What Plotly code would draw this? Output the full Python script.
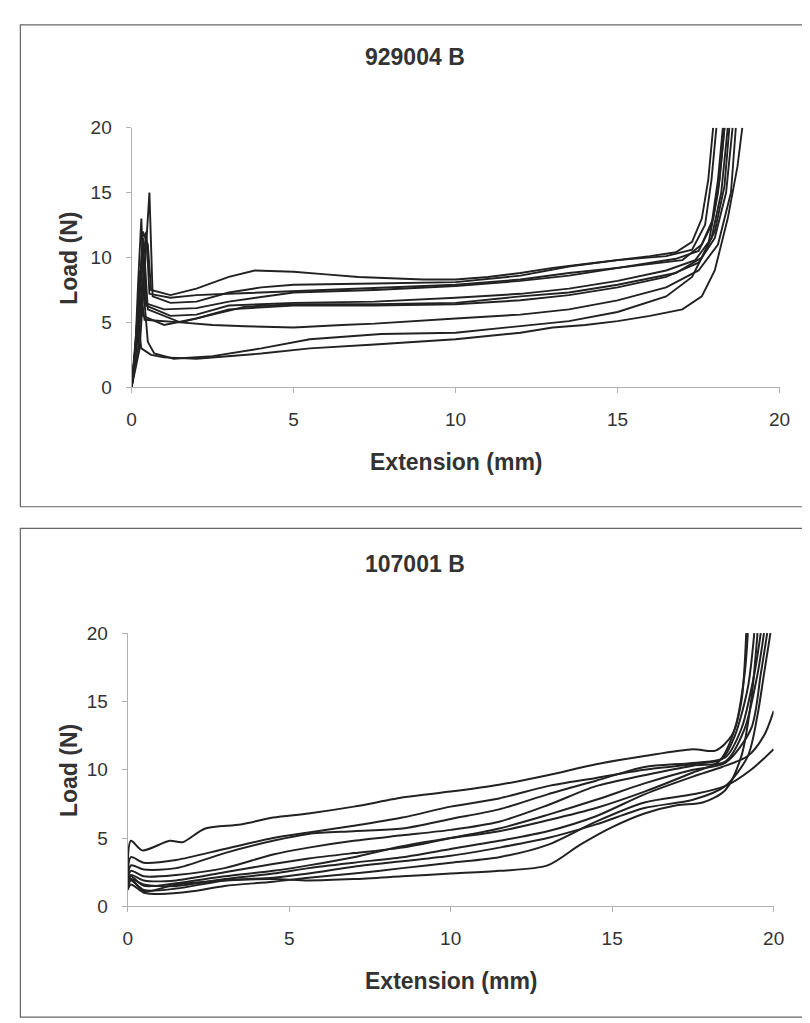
import plotly.graph_objects as go

# ---------------- data: top panel "929004 B" (Extension mm, Load N) ----------------
top_x = [
    [0, 0.2, 0.35, 0.5, 0.6, 1.2, 2, 3, 3.8, 5, 6, 7, 8, 9, 10, 11, 12, 13, 14, 15, 16, 16.8, 17.3, 17.6, 17.8, 17.95],
    [0, 0.25, 0.4, 0.5, 0.55, 0.65, 1.2, 2, 3, 4, 5, 7.5, 10, 12, 13.5, 15, 16.5, 17.3, 17.7, 17.9, 18.05],
    [0, 0.1, 0.2, 0.3, 0.4, 1.0, 2, 3, 5, 7.5, 10, 12, 13.5, 15, 16.8, 17.5, 17.9, 18.1, 18.25],
    [0, 0.15, 0.35, 0.45, 1.2, 2, 3, 5, 7.5, 10, 12, 13.5, 15, 16.5, 17.4, 17.9, 18.2, 18.4],
    [0, 0.2, 0.4, 0.5, 1.5, 2.5, 3.5, 5, 7.5, 10, 12, 13.5, 15, 16.8, 17.6, 18.0, 18.3, 18.45],
    [0, 0.1, 0.25, 0.35, 1.0, 2, 3, 5, 7.5, 10, 12, 13.5, 15, 16.5, 17.5, 18.0, 18.35, 18.55],
    [0, 0.15, 0.3, 0.4, 1.5, 2.5, 3.5, 5, 6.5, 7.5, 10, 12, 13.5, 15, 16.5, 17.5, 18.1, 18.5, 18.65],
    [0, 0.15, 0.35, 0.5, 0.7, 1.3, 2.5, 4, 5.5, 7.7, 10, 12, 13.5, 15, 16.5, 17.3, 17.8, 18.1, 18.3],
    [0, 0.2, 0.3, 0.6, 1.0, 2, 4, 5.5, 7.5, 10, 12, 13, 14, 15, 16, 17, 17.6, 18.0, 18.4, 18.7, 18.85],
    [0, 0.2, 0.45, 0.55, 1.2, 2, 3, 5, 7.5, 10, 12, 13.5, 15, 17, 17.6, 17.95, 18.15, 18.3],
]
top_y = [
    [0, 5, 12, 11, 7.5, 7.1, 7.6, 8.5, 9.0, 8.9, 8.7, 8.5, 8.4, 8.3, 8.3, 8.5, 8.8, 9.2, 9.5, 9.8, 10.1, 10.4, 11.2, 13, 16, 20],
    [0, 3, 9, 13, 15, 7.0, 6.5, 6.6, 7.3, 7.7, 7.9, 8.0, 8.1, 8.6, 9.3, 9.8, 10.1, 10.6, 12.5, 16, 20],
    [0, 2, 8, 13, 6.5, 6.0, 6.1, 6.6, 7.3, 7.5, 7.8, 8.2, 8.6, 9.2, 9.9, 10.5, 12.5, 16, 20],
    [0, 4, 11.5, 6.3, 5.5, 5.6, 6.3, 6.5, 6.6, 6.9, 7.2, 7.6, 8.2, 9.0, 9.8, 11.5, 15, 20],
    [0, 3, 10, 6.0, 5.0, 5.6, 6.2, 6.4, 6.4, 6.5, 7.0, 7.3, 7.9, 8.8, 10, 12, 15.5, 20],
    [0, 2, 9, 5.5, 4.8, 5.3, 6.0, 6.3, 6.3, 6.4, 6.7, 7.1, 7.7, 8.5, 9.6, 11.5, 15, 20],
    [0, 3, 7, 5.2, 5.0, 4.8, 4.7, 4.6, 4.8, 4.9, 5.3, 5.6, 6.0, 6.7, 7.7, 9.0, 11, 15, 20],
    [0, 4, 8, 3.5, 2.6, 2.2, 2.4, 3.0, 3.7, 4.1, 4.2, 4.7, 5.1, 5.8, 7.0, 8.5, 11, 15, 20],
    [0, 5, 3.0, 2.5, 2.3, 2.2, 2.6, 3.0, 3.3, 3.7, 4.2, 4.6, 4.8, 5.1, 5.5, 6.0, 7.0, 9, 13, 17, 20],
    [0, 6, 12, 7.2, 6.9, 7.1, 7.2, 7.4, 7.7, 7.9, 8.3, 8.8, 9.2, 9.8, 11, 13, 16, 20],
]

# ---------------- data: bottom panel "107001 B" ----------------
bot_x = [
    [0, 0.1, 0.45, 1.3, 1.7, 2.4, 3.5, 4.5, 5.6, 7, 8.6, 10, 11.5, 13, 14.5, 16, 17.5, 18.2, 18.7, 19.0, 19.15],
    [0, 0.1, 0.5, 1.5, 3, 4.5, 5.6, 7, 8.5, 10, 11.5, 13, 14.5, 16, 17.5, 18.4, 18.8, 19.2, 19.4],
    [0, 0.1, 0.5, 1.5, 3, 4.5, 5.6, 7, 8.5, 10, 11.5, 13, 14.5, 16, 17.5, 18.5, 19.0, 19.4, 19.6],
    [0, 0.1, 0.5, 1.5, 3, 4.5, 5.6, 7, 8.5, 10, 11.5, 13, 14.5, 16, 17.5, 18.5, 19.1, 19.5, 19.7],
    [0, 0.1, 0.5, 1.5, 3, 4.5, 5.6, 7, 8.5, 10, 11.5, 13, 14.5, 16, 17.5, 18.5, 19.3, 19.6, 19.8],
    [0, 0.1, 0.5, 1.5, 3, 4.5, 5.6, 7, 8.5, 10, 11.5, 13, 14.5, 16, 17.5, 18.4, 19.2, 19.7, 20.0],
    [0, 0.1, 0.5, 1.5, 3, 4.5, 5.6, 7, 8.5, 10, 11.5, 13, 14.5, 16, 17.5, 18.5, 19.2, 19.5, 19.7, 19.9],
    [0, 0.1, 0.5, 1.0, 2, 3, 4.5, 5.6, 7, 8.5, 10, 11.5, 13, 14.5, 16, 17.5, 18.5, 19.3, 20.0],
    [0, 0.1, 0.5, 1.5, 3, 4.5, 5.6, 7, 8.5, 10, 11.5, 13, 14, 15, 16, 17, 17.8, 18.5, 19.0, 19.3, 19.5],
    [0, 0.1, 0.5, 1.5, 3, 4.5, 5.6, 7, 8.5, 10, 11.5, 13, 14.5, 16, 17.5, 18.3, 18.8, 19.1, 19.2],
]
bot_y = [
    [2.5, 4.8, 4.1, 4.8, 4.7, 5.7, 6.0, 6.5, 6.8, 7.3, 8.0, 8.4, 8.9, 9.6, 10.4, 11.0, 11.5, 11.4, 12.5, 15, 20],
    [2.2, 3.6, 3.2, 3.4, 4.2, 5.0, 5.4, 5.9, 6.5, 7.3, 7.9, 8.8, 9.4, 10.0, 10.4, 10.8, 12.5, 16, 20],
    [2.0, 3.0, 2.7, 2.8, 3.9, 4.8, 5.3, 5.5, 5.7, 6.4, 7.1, 8.2, 9.2, 10.2, 10.5, 10.9, 13, 17, 20],
    [2.0, 2.6, 2.2, 2.3, 2.8, 3.8, 4.3, 4.8, 5.2, 5.6, 6.2, 7.4, 8.8, 9.6, 10.3, 10.6, 13, 17, 20],
    [1.8, 2.3, 1.9, 1.9, 2.5, 3.1, 3.5, 3.9, 4.3, 5.0, 5.7, 6.7, 7.8, 9.0, 10.0, 10.5, 13, 17, 20],
    [1.6, 2.0, 1.6, 1.5, 2.0, 2.4, 2.8, 3.2, 3.6, 4.2, 4.8, 5.5, 6.6, 8.2, 9.5, 10.2, 11.0, 12.5, 14.3],
    [1.4, 1.9, 1.2, 1.3, 1.9, 2.1, 2.4, 2.9, 3.3, 3.7, 4.3, 5.0, 6.0, 7.2, 7.8, 8.8, 11, 14, 17, 20],
    [1.2, 1.6, 1.0, 0.9, 1.1, 1.5, 1.8, 2.1, 2.4, 2.8, 3.2, 3.6, 4.5, 6.2, 7.6, 8.2, 8.8, 10, 11.5],
    [1.5, 2.0, 1.1, 1.6, 1.9, 2.0, 1.9, 2.0, 2.2, 2.4, 2.6, 3.0, 4.5, 5.8, 6.8, 7.4, 7.6, 8.5, 11, 15, 20],
    [1.7, 2.2, 1.5, 1.7, 2.2, 2.6, 3.0, 3.6, 4.4, 5.0, 5.5, 6.3, 7.2, 8.4, 9.8, 10.6, 13, 17, 20],
]

titles = ["929004 B", "107001 B"]
x_ticks = [0, 5, 10, 15, 20]
y_ticks = [0, 5, 10, 15, 20]

W, H = 810, 1023
LINE = "#222222"
FONT = "Liberation Sans, Arial, sans-serif"

fig = go.Figure()
for xs, ys in zip(top_x, top_y):
    fig.add_trace(go.Scatter(x=xs, y=ys, mode="lines", xaxis="x", yaxis="y",
                             line=dict(color=LINE, width=1.9), showlegend=False, hoverinfo="skip"))
for xs, ys in zip(bot_x, bot_y):
    fig.add_trace(go.Scatter(x=xs, y=ys, mode="lines", xaxis="x2", yaxis="y2",
                             line=dict(color=LINE, width=2.0, shape="spline", smoothing=0.8),
                             showlegend=False, hoverinfo="skip"))

def px_x(p):
    return p / W

def px_y(p):
    return 1 - p / H

common = dict(range=[0, 20], showgrid=False, zeroline=False,
              showline=True, linecolor="#b0b0b0", linewidth=1.2, ticks="outside",
              ticklen=5, tickcolor="#b0b0b0", tickfont=dict(family=FONT, size=19, color="#333"))

fig.update_layout(
    width=W, height=H, margin=dict(l=0, r=0, t=0, b=0),
    paper_bgcolor="white", plot_bgcolor="white",
    xaxis=dict(domain=[px_x(121), px_x(782)], anchor="y", tickvals=x_ticks, ticklabelstandoff=10, **common),
    yaxis=dict(domain=[px_y(377), px_y(112)], anchor="x", tickvals=y_ticks, ticklabelstandoff=10, **common),
    xaxis2=dict(domain=[px_x(117), px_x(776)], anchor="y2", tickvals=x_ticks, ticklabelstandoff=10, **common),
    yaxis2=dict(domain=[px_y(907), px_y(628)], anchor="x2", tickvals=y_ticks, ticklabelstandoff=10, **common),
)

# panel frames
for (y0, y1) in [(7, 499), (521, 1020)]:
    fig.add_shape(type="rect", xref="paper", yref="paper",
                  x0=px_x(7.5), x1=px_x(809), y0=px_y(y1), y1=px_y(y0),
                  line=dict(color="#666", width=1.2), fillcolor="rgba(0,0,0,0)", layer="below")

ann = []
for t, yc in zip(titles, [40, 557]):
    ann.append(dict(text=f"<b>{t}</b>", x=px_x(410), y=px_y(yc), xref="paper", yref="paper",
                    showarrow=False, font=dict(family=FONT, size=23, color="#333"),
                    xanchor="center", yanchor="middle"))
for yc in [245, 768]:
    ann.append(dict(text="<b>Load (N)</b>", x=px_x(57), y=px_y(yc), xref="paper", yref="paper",
                    showarrow=False, textangle=-90, font=dict(family=FONT, size=23, color="#333"),
                    xanchor="center", yanchor="middle"))
for yc, xc in [(453, 452), (983, 447)]:
    ann.append(dict(text="<b>Extension (mm)</b>", x=px_x(xc), y=px_y(yc), xref="paper", yref="paper",
                    showarrow=False, font=dict(family=FONT, size=23, color="#333"),
                    xanchor="center", yanchor="middle"))
fig.update_layout(annotations=ann)

fig.write_html("out.html")
